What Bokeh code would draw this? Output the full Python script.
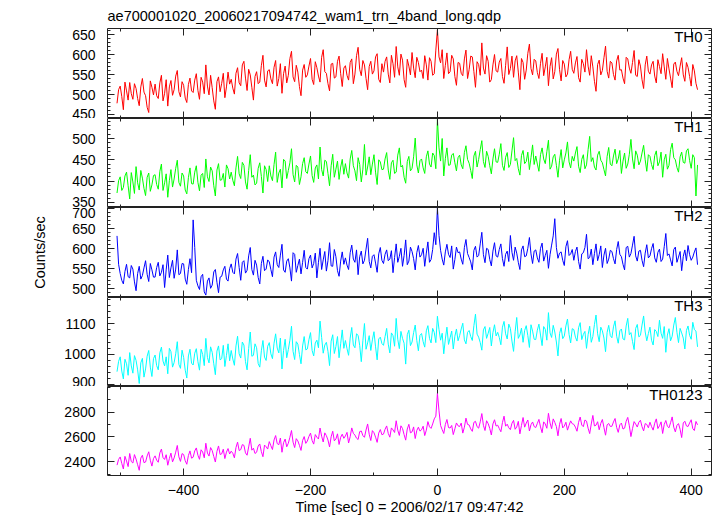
from bokeh.plotting import figure
from bokeh.layouts import column
from bokeh.models import Range1d, LinearAxis, FixedTicker, Title, Label
from bokeh.embed import file_html
from bokeh.resources import INLINE

# ---------------- data (counts/sec, 2.5-s bins from -505 s to 410 s) ----------------
t_start = -505
t_step = 2.5

th0 = [
    478, 512, 521, 495, 462, 531, 509, 486, 530, 502, 488, 527, 515, 490, 472, 519, 540, 506, 497, 468, 455, 534, 518, 499,
    526, 497, 490, 529, 548, 484, 503, 537, 471, 519, 535, 498, 512, 546, 560, 507, 494, 532, 523, 491, 480, 525, 541, 509,
    505, 536, 552, 510, 488, 543, 531, 502, 574, 521, 499, 548, 517, 484, 463, 532, 544, 507, 528, 553, 492, 519, 556, 526,
    538, 516, 501, 553, 567, 529, 522, 574, 583, 541, 510, 563, 549, 518, 486, 545, 557, 527, 531, 572, 598, 536, 519, 559,
    562, 539, 527, 568, 585, 521, 540, 577, 503, 552, 571, 529, 548, 590, 608, 544, 532, 573, 556, 520, 497, 561, 575, 543,
    549, 571, 590, 538, 525, 582, 567, 546, 531, 593, 612, 557, 553, 527, 509, 576, 578, 541, 544, 583, 596, 552, 520, 566,
    572, 548, 536, 580, 589, 527, 551, 597, 618, 563, 547, 585, 574, 540, 512, 570, 583, 551, 559, 594, 602, 538, 530, 577,
    556, 583, 594, 551, 529, 598, 577, 543, 620, 569, 548, 601, 586, 537, 518, 588, 571, 549, 605, 566, 542, 593, 580, 557,
    561, 540, 597, 574, 536, 592, 583, 548, 552, 611, 662, 594, 579, 612, 540, 573, 604, 552, 557, 598, 589, 545, 523, 580,
    578, 553, 547, 589, 611, 540, 562, 596, 594, 557, 518, 582, 575, 548, 629, 566, 551, 597, 583, 531, 537, 574, 600, 559,
    556, 581, 590, 545, 528, 573, 619, 550, 565, 596, 543, 584, 597, 556, 512, 590, 580, 538, 561, 603, 626, 565, 549, 588,
    584, 555, 540, 578, 603, 547, 569, 593, 522, 570, 592, 539, 557, 601, 615, 562, 534, 585, 576, 544, 551, 587, 608, 563,
    553, 579, 595, 542, 531, 588, 577, 556, 612, 571, 548, 597, 569, 533, 508, 575, 586, 549, 560, 592, 621, 558, 541, 583,
    579, 550, 536, 584, 598, 561, 562, 541, 527, 593, 589, 566, 553, 580, 610, 548, 545, 587, 571, 537, 515, 574, 596, 558,
    551, 574, 583, 546, 529, 587, 570, 552, 602, 569, 538, 590, 564, 541, 517, 576, 581, 558, 547, 571, 592, 549, 533, 580,
    568, 545, 521, 575, 559, 528, 512,
]
th1 = [
    372, 401, 410, 378, 385, 412, 421, 389, 358, 420, 398, 371, 434, 396, 379, 425, 407, 383, 366, 409, 419, 376, 391, 413,
    415, 392, 381, 423, 440, 378, 396, 417, 362, 401, 427, 386, 405, 430, 449, 397, 388, 419, 412, 379, 370, 408, 431, 394,
    393, 421, 436, 397, 377, 414, 418, 385, 452, 410, 399, 433, 424, 389, 365, 426, 441, 402, 403, 418, 386, 438, 429, 405,
    421, 402, 389, 431, 458, 417, 406, 444, 437, 398, 381, 425, 462, 409, 414, 391, 395, 430, 443, 411, 372, 436, 427, 399,
    436, 412, 401, 439, 468, 397, 419, 428, 384, 451, 447, 406, 425, 443, 476, 415, 398, 437, 433, 392, 410, 441, 455, 422,
    418, 440, 459, 413, 397, 431, 438, 405, 480, 427, 412, 449, 446, 418, 389, 436, 463, 409, 428, 447, 404, 433, 451, 416,
    441, 419, 407, 452, 472, 436, 424, 401, 455, 439, 398, 428, 486, 414, 433, 457, 415, 440, 462, 421, 392, 450, 445, 427,
    428, 452, 467, 426, 404, 443, 449, 418, 421, 461, 478, 433, 437, 409, 395, 446, 458, 424, 430, 457, 501, 438, 419, 448,
    452, 431, 418, 457, 471, 440, 433, 466, 460, 429, 545, 478, 447, 500, 412, 453, 478, 437, 438, 461, 465, 443, 424, 455,
    461, 438, 429, 467, 483, 451, 442, 425, 406, 459, 470, 433, 451, 474, 495, 446, 432, 470, 458, 436, 417, 452, 476, 445,
    444, 463, 488, 437, 425, 456, 467, 432, 439, 471, 502, 448, 453, 429, 414, 460, 472, 441, 446, 468, 427, 455, 485, 439,
    459, 440, 423, 462, 478, 452, 441, 469, 496, 428, 435, 457, 463, 437, 409, 449, 474, 431, 450, 466, 492, 445, 431, 458,
    447, 466, 481, 435, 420, 451, 462, 429, 438, 474, 505, 446, 455, 433, 426, 461, 470, 449, 443, 427, 412, 458, 479, 440,
    436, 459, 475, 441, 452, 472, 418, 447, 466, 430, 440, 463, 498, 452, 429, 471, 461, 438, 447, 466, 484, 450, 423, 462,
    458, 439, 427, 460, 471, 436, 445, 468, 409, 450, 463, 428, 437, 474, 489, 455, 450, 432, 421, 457, 468, 444, 442, 471,
    476, 448, 430, 462, 455, 365, 438,
]
th2 = [
    632, 561, 538, 521, 512, 543, 561, 530, 527, 558, 549, 517, 495, 538, 556, 524, 533, 552, 570, 536, 518, 563, 547, 529,
    529, 553, 566, 532, 541, 560, 503, 547, 584, 528, 552, 571, 526, 549, 597, 535, 538, 563, 562, 524, 511, 548, 575, 540,
    672, 603, 521, 507, 498, 530, 536, 492, 484, 519, 527, 501, 509, 542, 548, 516, 490, 529, 531, 547, 556, 524, 519, 550,
    562, 541, 537, 574, 588, 553, 521, 566, 570, 539, 546, 582, 603, 548, 534, 571, 559, 528, 512, 563, 581, 545, 549, 572,
    567, 548, 530, 579, 592, 560, 553, 584, 611, 547, 541, 569, 575, 552, 519, 590, 586, 541, 558, 574, 537, 566, 596, 553,
    549, 575, 584, 552, 563, 589, 527, 566, 601, 548, 572, 593, 544, 570, 615, 557, 556, 598, 580, 545, 531, 569, 592, 561,
    577, 559, 548, 590, 609, 574, 566, 597, 535, 580, 594, 562, 571, 599, 626, 568, 552, 581, 585, 564, 541, 587, 603, 571,
    563, 586, 597, 570, 574, 595, 540, 578, 612, 566, 581, 601, 556, 583, 622, 560, 569, 604, 593, 575, 547, 590, 608, 579,
    585, 601, 556, 589, 617, 566, 573, 598, 640, 610, 702, 633, 596, 574, 559, 592, 611, 586, 578, 607, 549, 573, 604, 590,
    592, 574, 561, 603, 623, 588, 578, 567, 547, 596, 606, 579, 583, 612, 641, 585, 565, 601, 598, 573, 557, 594, 615, 582,
    579, 598, 612, 575, 556, 586, 594, 568, 633, 591, 571, 604, 589, 566, 548, 597, 607, 580, 582, 601, 628, 587, 563, 594,
    597, 577, 566, 601, 614, 569, 583, 596, 551, 585, 609, 632, 675, 603, 576, 589, 592, 571, 558, 605, 620, 583, 587, 598,
    571, 593, 604, 568, 549, 587, 590, 603, 636, 575, 578, 599, 560, 588, 612, 570, 585, 607, 553, 584, 601, 563, 574, 596,
    593, 575, 562, 598, 618, 586, 580, 561, 547, 603, 606, 579, 588, 609, 631, 582, 569, 594, 596, 571, 555, 589, 610, 577,
    582, 600, 613, 577, 566, 591, 599, 568, 574, 605, 638, 583, 587, 572, 557, 598, 604, 566, 579, 593, 545, 581, 597, 570,
    608, 585, 571, 579, 592, 602, 560,
]
th3 = [
    942, 976, 991, 944, 918, 983, 968, 930, 1005, 961, 937, 995, 979, 948, 903, 971, 986, 924, 951, 993, 1012, 957, 926, 985,
    997, 962, 948, 1004, 1023, 977, 961, 991, 935, 1019, 1008, 957, 972, 1001, 1041, 966, 953, 1013, 989, 947, 921, 994, 1016, 970,
    964, 1003, 1018, 975, 947, 1016, 999, 962, 1052, 989, 971, 1024, 1006, 968, 932, 1010, 1027, 981, 985, 1029, 959, 996, 1034, 978,
    1012, 984, 963, 1027, 1059, 1001, 987, 1040, 1030, 975, 948, 1018, 1073, 993, 996, 1034, 1021, 969, 957, 1011, 1045, 990, 979, 1026,
    1038, 1001, 985, 1036, 1067, 1020, 1004, 1053, 951, 1012, 1049, 988, 1015, 1046, 1092, 1009, 982, 1041, 1033, 999, 968, 1027, 1058, 1014,
    1017, 1048, 1071, 1012, 994, 1037, 1046, 1021, 1109, 1055, 1003, 1030, 1039, 1009, 962, 1043, 1064, 1002, 1025, 1058, 988, 1034, 1080, 1019,
    1045, 1018, 996, 1053, 1088, 1030, 1021, 1067, 1062, 1029, 975, 1044, 1101, 1016, 1037, 1061, 1012, 1047, 1074, 1024, 981, 1050, 1056, 1035,
    1029, 1058, 1085, 1033, 1004, 1070, 1061, 1026, 1118, 1049, 1018, 1075, 1052, 1036, 967, 1064, 1079, 1028, 1040, 1071, 1096, 1045, 1011, 1062,
    1068, 1041, 1023, 1077, 1094, 1052, 1037, 1085, 1072, 1038, 1125, 1081, 1046, 1069, 1001, 1050, 1089, 1032, 1054, 1076, 1017, 1059, 1083, 1044,
    1061, 1083, 1102, 1047, 1034, 1072, 1078, 1058, 1045, 1094, 1132, 1066, 1056, 1038, 1013, 1080, 1091, 1052, 1069, 1088, 1027, 1071, 1097, 1060,
    1072, 1055, 1031, 1089, 1108, 1067, 1050, 1099, 1085, 1043, 1009, 1074, 1121, 1052, 1063, 1086, 1039, 1078, 1094, 1061, 1022, 1097, 1076, 1049,
    1048, 1079, 1099, 1063, 1028, 1091, 1082, 1046, 1137, 1070, 1055, 1095, 1073, 1040, 994, 1068, 1087, 1051, 1060, 1093, 1116, 1065, 1037, 1084,
    1081, 1056, 1043, 1087, 1104, 1048, 1065, 1075, 1019, 1064, 1092, 1039, 1058, 1098, 1129, 1067, 1041, 1089, 1077, 1053, 1008, 1072, 1095, 1061,
    1054, 1090, 1110, 1059, 1036, 1077, 1083, 1050, 1047, 1093, 1118, 1064, 1071, 1042, 1015, 1085, 1098, 1057, 1062, 1096, 1126, 1073, 1044, 1068,
    1089, 1046, 1030, 1081, 1075, 1058, 1112, 1069, 1052, 1091, 1006, 1063, 1084, 1044, 1059, 1096, 1121, 1072, 1038, 1085, 1070, 1053, 1017, 1078,
    1093, 1062, 1049, 1105, 1081, 1076, 1024,
]
th0123 = [
    2372, 2418, 2438, 2386, 2341, 2443, 2405, 2360, 2466, 2401, 2389, 2457, 2421, 2375, 2330, 2429, 2452, 2392, 2397, 2446, 2480, 2411, 2364, 2425,
    2447, 2412, 2395, 2471, 2502, 2433, 2418, 2456, 2371, 2425, 2469, 2398, 2430, 2477, 2531, 2439, 2402, 2465, 2458, 2407, 2379, 2449, 2487, 2428,
    2436, 2487, 2511, 2452, 2419, 2496, 2478, 2431, 2549, 2470, 2445, 2514, 2490, 2442, 2397, 2483, 2527, 2458, 2463, 2501, 2425, 2477, 2506, 2462,
    2485, 2468, 2431, 2514, 2558, 2490, 2497, 2538, 2532, 2471, 2452, 2519, 2589, 2493, 2509, 2466, 2476, 2527, 2543, 2481, 2440, 2534, 2521, 2502,
    2562, 2529, 2498, 2575, 2611, 2546, 2537, 2591, 2476, 2553, 2583, 2520, 2549, 2597, 2652, 2558, 2514, 2586, 2568, 2532, 2491, 2571, 2603, 2548,
    2567, 2604, 2631, 2571, 2542, 2619, 2598, 2583, 2672, 2606, 2559, 2633, 2610, 2575, 2519, 2601, 2646, 2568, 2584, 2625, 2539, 2597, 2622, 2589,
    2608, 2637, 2551, 2602, 2673, 2629, 2615, 2590, 2579, 2643, 2648, 2611, 2597, 2656, 2705, 2622, 2571, 2651, 2634, 2598, 2556, 2631, 2660, 2618,
    2623, 2662, 2689, 2629, 2598, 2673, 2657, 2636, 2731, 2655, 2612, 2690, 2668, 2619, 2574, 2664, 2702, 2633, 2641, 2681, 2587, 2652, 2679, 2647,
    2658, 2687, 2611, 2655, 2724, 2682, 2669, 2705, 2746, 2768, 2952, 2811, 2693, 2659, 2628, 2701, 2741, 2676, 2672, 2693, 2619, 2666, 2713, 2690,
    2684, 2712, 2631, 2679, 2752, 2701, 2697, 2665, 2645, 2718, 2726, 2683, 2671, 2722, 2789, 2694, 2652, 2731, 2708, 2669, 2616, 2705, 2739, 2688,
    2695, 2668, 2642, 2716, 2768, 2687, 2703, 2674, 2659, 2711, 2734, 2662, 2681, 2726, 2625, 2693, 2757, 2679, 2712, 2737, 2648, 2699, 2721, 2684,
    2676, 2709, 2742, 2681, 2634, 2722, 2705, 2670, 2791, 2713, 2667, 2746, 2718, 2684, 2609, 2702, 2749, 2673, 2688, 2719, 2655, 2694, 2730, 2707,
    2702, 2679, 2646, 2718, 2761, 2696, 2683, 2737, 2728, 2671, 2627, 2705, 2774, 2689, 2695, 2723, 2658, 2710, 2741, 2676, 2614, 2698, 2709, 2685,
    2686, 2721, 2749, 2677, 2637, 2698, 2712, 2664, 2671, 2727, 2758, 2690, 2603, 2667, 2724, 2704, 2680, 2719, 2735, 2683, 2649, 2708, 2701, 2674,
    2719, 2684, 2655, 2711, 2746, 2668, 2690, 2722, 2628, 2701, 2733, 2686, 2674, 2715, 2762, 2679, 2641, 2694, 2708, 2662, 2595, 2713, 2727, 2689,
    2684, 2713, 2739, 2667, 2652, 2725, 2698,
]

names = ["TH0", "TH1", "TH2", "TH3", "TH0123"]
series = [th0, th1, th2, th3, th0123]
colors = ["#ff0000", "#00ff00", "#0000ff", "#00ffff", "#ff00ff"]
y_limits = [(440, 665), (338, 547), (478, 703), (893, 1187), (2288, 3008)]
y_major = [[450, 500, 550, 600, 650], [350, 400, 450, 500], [500, 550, 600, 650, 700],
           [900, 1000, 1100], [2400, 2600, 2800]]
y_minor_step = [10, 10, 10, 20, 100]
x_major = [-400, -200, 0, 200, 400]
x_minor = [-500, -300, -100, 100, 300]
x_limits = (-520, 432)

title_text = "ae700001020_20060217094742_wam1_trn_4band_long.qdp"
x_label = "Time [sec] 0 = 2006/02/17 09:47:42"
y_label = "Counts/sec"

FONT = "Liberation Sans"
time = [t_start + t_step * i for i in range(len(th0))]

frame_heights = [90, 89, 90, 89, 89]

xr = Range1d(*x_limits)
figs = []
n = len(names)
for k in range(n):
    lo, hi = y_limits[k]
    first = k == 0
    last = k == n - 1
    p = figure(frame_width=604, frame_height=frame_heights[k], x_range=xr, y_range=Range1d(lo, hi),
               output_backend="svg", toolbar_location=None,
               x_axis_location=None, y_axis_location=None,
               min_border_left=107, min_border_right=6,
               min_border_top=27 if first else 0, min_border_bottom=0,
               background_fill_color="white", border_fill_color="white")
    p.outline_line_color = "#222222"
    p.outline_line_width = 1
    p.grid.visible = False

    minor = list(range(lo - lo % y_minor_step[k], hi + 1, y_minor_step[k]))
    for side in ("left", "right"):
        ax = LinearAxis(ticker=FixedTicker(ticks=y_major[k], minor_ticks=minor))
        ax.axis_line_color = None
        ax.major_tick_in = 7
        ax.major_tick_out = 0
        ax.minor_tick_in = 3
        ax.minor_tick_out = 0
        ax.major_tick_line_color = "#222222"
        ax.minor_tick_line_color = "#222222"
        if side == "left":
            ax.major_label_text_font = FONT
            ax.major_label_text_font_size = "14px"
            ax.major_label_text_color = "black"
            ax.major_label_standoff = 12
            if k == 2:
                ax.axis_label = y_label
                ax.axis_label_text_font = FONT
                ax.axis_label_text_font_size = "14.5px"
                ax.axis_label_text_font_style = "normal"
                ax.axis_label_text_color = "black"
                ax.axis_label_standoff = 21
        else:
            ax.major_label_text_font_size = "0px"
            ax.major_label_standoff = 0
        p.add_layout(ax, side)

    for side in ("above", "below"):
        ax = LinearAxis(ticker=FixedTicker(ticks=x_major, minor_ticks=x_minor))
        ax.axis_line_color = None
        ax.major_tick_in = 7
        ax.major_tick_out = 0
        ax.minor_tick_in = 3
        ax.minor_tick_out = 0
        ax.major_tick_line_color = "#222222"
        ax.minor_tick_line_color = "#222222"
        if side == "below" and last:
            ax.major_label_text_font = FONT
            ax.major_label_text_font_size = "14px"
            ax.major_label_text_color = "black"
            ax.major_label_standoff = 9
            ax.axis_label = x_label
            ax.axis_label_text_font = FONT
            ax.axis_label_text_font_size = "14.5px"
            ax.axis_label_text_font_style = "normal"
            ax.axis_label_text_color = "black"
            ax.axis_label_standoff = 1
        else:
            ax.major_label_text_font_size = "0px"
            ax.major_label_standoff = 0
        p.add_layout(ax, side)

    p.line(time, series[k], line_color=colors[k], line_width=1)

    p.add_layout(Label(x=x_limits[1], y=hi, x_offset=-9, y_offset=1,
                       text=names[k], text_align="right", text_baseline="top",
                       text_font=FONT, text_font_size="15px", text_color="black"))

    if first:
        p.title = Title(text=title_text, align="left", text_font=FONT,
                        text_font_size="14.5px", text_font_style="normal",
                        text_color="black", standoff=10, offset=0)
    figs.append(p)

layout = column(*figs, spacing=0)
open("out.html", "w").write(file_html(layout, INLINE))
